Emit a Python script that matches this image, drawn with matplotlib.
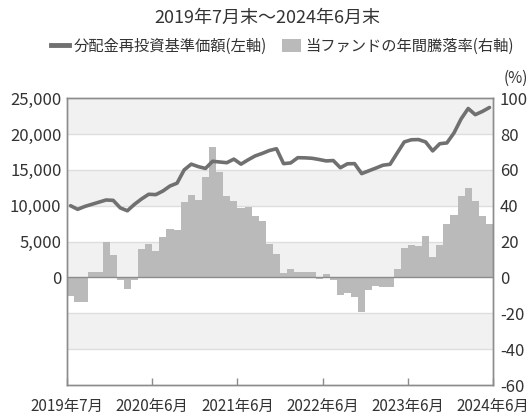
import matplotlib
matplotlib.use("Agg")
import matplotlib.pyplot as plt
from matplotlib.lines import Line2D
from matplotlib.patches import Patch
import numpy as np

plt.rcParams['font.family'] = ['Noto Sans CJK JP', 'DejaVu Sans']

# 分配金再投資基準価額 (円, 月末)
nav = [10000, 9500, 9900, 10200, 10500, 10800, 10750, 9700, 9300, 10200,
       10950, 11600, 11550, 12050, 12750, 13150, 15000, 15800, 15450, 15200,
       16200, 16100, 16000, 16500, 15800, 16400, 16950, 17300, 17700, 17950,
       15870, 15970, 16700, 16680, 16620, 16450, 16250, 16300, 15300, 15850,
       15870, 14480, 14870, 15250, 15650, 15780, 17350, 18900, 19200, 19230,
       18900, 17650, 18650, 18760, 20150, 22100, 23560, 22700, 23150, 23700]

# 年間騰落率 (%)
ret = [-10.6, -13.8, -13.8, 3.0, 3.0, 19.7, 12.3, -1.7, -6.3, -1.7,
       16.0, 18.4, 14.7, 22.5, 27.0, 26.7, 42.2, 46.1, 43.3, 56.3,
       72.8, 58.7, 45.3, 42.9, 38.6, 39.2, 34.2, 31.6, 18.8, 13.2,
       2.6, 4.8, 3.0, 3.3, 3.3, -0.7, 2.0, -1.3, -10.0, -8.7,
       -11.0, -19.3, -6.9, -5.0, -5.4, -5.4, 4.5, 16.3, 18.2, 17.5,
       22.9, 11.3, 18.2, 29.9, 34.9, 45.7, 49.8, 42.9, 34.2, 29.9]

xtick_pos = [0, 12, 24, 36, 48, 60]
xtick_labels = ['2019年7月', '2020年6月', '2021年6月', '2022年6月', '2023年6月', '2024年6月']
left_ticks = [0, 5000, 10000, 15000, 20000, 25000]
right_ticks = [-60, -40, -20, 0, 20, 40, 60, 80, 100]

line_color = '#707070'
bar_color = '#bababa'
band_color = '#f1f1f1'
grid_color = '#dedede'
spine_color = '#8c8c8c'
text_color = '#333333'

fig = plt.figure(figsize=(5.29, 4.16), dpi=100)
ax = fig.add_axes([0.1267, 0.0745, 0.8053, 0.6895])
ax2 = ax.twinx()

x = np.arange(len(ret)) + 0.5

# background bands and grid on the right (percent) axis
for lo in [-40, 0, 40, 80]:
    ax2.axhspan(lo, lo + 20, color=band_color, lw=0, zorder=0)
for g in [-40, -20, 20, 40, 60, 80]:
    ax2.axhline(g, color=grid_color, lw=1, zorder=1)
ax2.bar(x, ret, width=1.0, color=bar_color, lw=0, zorder=2)
ax2.axhline(0, color=spine_color, lw=1, zorder=3)

# line on top
ax.set_zorder(ax2.get_zorder() + 1)
ax.patch.set_visible(False)
ax.plot(x, nav, color=line_color, lw=2.6, solid_capstyle='round',
        solid_joinstyle='round', zorder=5)

ax.set_xlim(0, 60)
ax.set_ylim(-15000, 25000)
ax2.set_ylim(-60, 100)

ax.set_yticks(left_ticks)
ax.set_yticklabels([f"{v:,}" for v in left_ticks])
ax2.set_yticks(right_ticks)
ax2.set_yticklabels([str(v) for v in right_ticks])
ax.set_xticks(xtick_pos)
ax.set_xticklabels(xtick_labels)

ax.tick_params(axis='y', length=0, pad=4, labelsize=12, labelcolor=text_color)
ax2.tick_params(axis='y', length=0, pad=5, labelsize=12, labelcolor=text_color)
ax.tick_params(axis='x', direction='in', length=5, width=1, color=spine_color,
               pad=9, labelsize=11, labelcolor=text_color)

for a in (ax, ax2):
    for s in a.spines.values():
        s.set_color(spine_color)
        s.set_linewidth(1)

fig.text(0.506, 0.958, '2019年7月末～2024年6月末', ha='center', va='center',
         fontsize=13, color=text_color)
fig.text(0.976, 0.812, '(%)', ha='center', va='center', fontsize=11, color=text_color)

handles = [Line2D([], [], color=line_color, lw=3.5),
           Patch(facecolor=bar_color, edgecolor='none')]
labels = ['分配金再投資基準価額(左軸)', '当ファンドの年間騰落率(右軸)']
fig.legend(handles, labels, loc='center', bbox_to_anchor=(0.534, 0.889), ncol=2,
           frameon=False, fontsize=11, handlelength=1.2, handleheight=0.9,
           handletextpad=0.3, columnspacing=1.0, labelcolor=text_color)

fig.savefig('out.png', dpi=100)
